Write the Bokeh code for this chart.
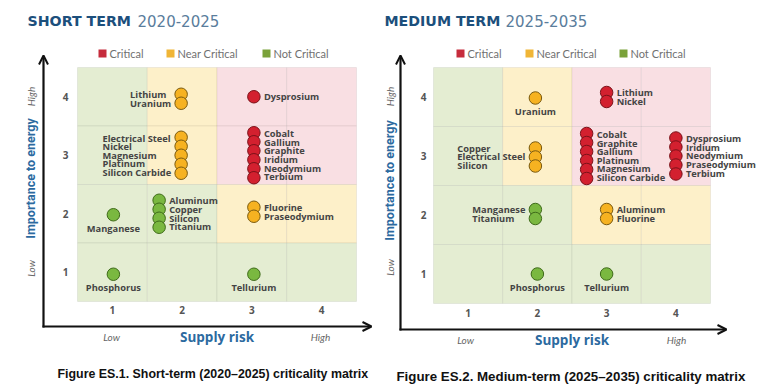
import math
from bokeh.plotting import figure
from bokeh.layouts import row
from bokeh.models import ColumnDataSource, Range1d, Arrow, OpenHead
from bokeh.core.properties import value
from bokeh.embed import file_html
from bokeh.resources import INLINE

# ---------------- data ----------------
SUPPLY_TICKS = [1, 2, 3, 4]
IMPORTANCE_TICKS = [1, 2, 3, 4]
STATUS_NAMES = ["Critical", "Near Critical", "Not Critical"]

# criticality zone of each cell; rows are importance 4,3,2,1 ; columns supply 1..4
ZONE_IMPORTANCE = [4, 3, 2, 1]
ZONE_STATUS = [
    ["Not Critical", "Near Critical", "Critical", "Critical"],
    ["Not Critical", "Near Critical", "Critical", "Critical"],
    ["Not Critical", "Not Critical", "Near Critical", "Near Critical"],
    ["Not Critical", "Not Critical", "Not Critical", "Not Critical"],
]

ST_ELEMENTS = ["Lithium", "Uranium", "Dysprosium",
               "Electrical Steel", "Nickel", "Magnesium", "Platinum", "Silicon Carbide",
               "Cobalt", "Gallium", "Graphite", "Iridium", "Neodymium", "Terbium",
               "Manganese", "Aluminum", "Copper", "Silicon", "Titanium",
               "Fluorine", "Praseodymium", "Phosphorus", "Tellurium"]
ST_SUPPLY = [2, 2, 3,
             2, 2, 2, 2, 2,
             3, 3, 3, 3, 3, 3,
             1, 2, 2, 2, 2,
             3, 3, 1, 3]
ST_IMPORTANCE = [4, 4, 4,
                 3, 3, 3, 3, 3,
                 3, 3, 3, 3, 3, 3,
                 2, 2, 2, 2, 2,
                 2, 2, 1, 1]

MT_ELEMENTS = ["Uranium", "Lithium", "Nickel",
               "Copper", "Electrical Steel", "Silicon",
               "Cobalt", "Graphite", "Gallium", "Platinum", "Magnesium", "Silicon Carbide",
               "Dysprosium", "Iridium", "Neodymium", "Praseodymium", "Terbium",
               "Manganese", "Titanium", "Aluminum", "Fluorine",
               "Phosphorus", "Tellurium"]
MT_SUPPLY = [2, 3, 3,
             2, 2, 2,
             3, 3, 3, 3, 3, 3,
             4, 4, 4, 4, 4,
             2, 2, 3, 3,
             2, 3]
MT_IMPORTANCE = [4, 4, 4,
                 3, 3, 3,
                 3, 3, 3, 3, 3, 3,
                 3, 3, 3, 3, 3,
                 2, 2, 2, 2,
                 1, 1]

# ---------------- styles ----------------
ZONE_FILL = {"Critical": "#f9dfe3", "Near Critical": "#fdf0c9", "Not Critical": "#e4edd2"}
DOT_FILL = {"Critical": "#d3202f", "Near Critical": "#f6b221", "Not Critical": "#7ab840"}
DOT_LINE = {"Critical": "#7a1219", "Near Critical": "#7a5a10", "Not Critical": "#3f6b1a"}
LEGEND_FILL = {"Critical": "#c62c3c", "Near Critical": "#f0b536", "Not Critical": "#7aa23a"}

TITLE_BLUE = "#1c4f7c"
YEAR_BLUE = "#5a7d9c"
AXIS_BLUE = "#2c6a9f"
LABEL_FONT = value("Open Sans")
DOT_STEP = 9.0  # px between stacked dots

FIG_H = 385
PAGE_TOP = 0

# group layout per cell: (label side, dx px, dy px)
ST_LAYOUT = {
    (2, 4): ("left", -1, 2), (3, 4): ("right", 2, 0),
    (2, 3): ("left", -1, 0), (3, 3): ("right", 2, 0),
    (1, 2): ("below", 1, 1), (2, 2): ("right", -23, 0), (3, 2): ("right", 2, -2),
    (1, 1): ("below", 1, 2), (3, 1): ("below", 2, 2),
}
MT_LAYOUT = {
    (2, 4): ("below", -2, 1), (3, 4): ("right", 0, 0),
    (2, 3): ("left", -2, 1), (3, 3): ("right", -20, 0), (4, 3): ("right", 0, 0),
    (2, 2): ("left", -2, -1), (3, 2): ("right", 0, -1),
    (2, 1): ("below", 0, 0), (3, 1): ("below", 0, 0),
}

ST_GEOM = dict(fig_left=0, fig_w=380, grid_l=77, grid_r=356, grid_t=67, grid_b=301,
               ax_x=43, ax_y=326, ax_tip_x=371, ax_tip_y=55,
               ytick_x=65, xtick_y=309, ylab_x=30, ylab_c=178, yhigh_y=96, ylow_y=268,
               xlab_y=336, low_x=111, high_x=320, title_x=27, year_x=137, title_y=20,
               legend_x=[102, 170, 266], legend_y=53,
               cap_x=57, cap_y=373, cap_size="12.4px")
MT_GEOM = dict(fig_left=380, fig_w=384, grid_l=433, grid_r=710, grid_t=67, grid_b=303,
               ax_x=400, ax_y=329, ax_tip_x=726, ax_tip_y=55,
               ytick_x=423, xtick_y=312, ylab_x=389, ylab_c=180, yhigh_y=96, ylow_y=267,
               xlab_y=339, low_x=465, high_x=676, title_x=384, year_x=505, title_y=20,
               legend_x=[460, 529, 623], legend_y=53,
               cap_x=396, cap_y=376, cap_size="13.3px")


def make_chart(g, title, year, caption, elements, supply, importance, layout):
    ppx = (g["grid_r"] - g["grid_l"]) / 4.0
    ppy = (g["grid_b"] - g["grid_t"]) / 4.0

    def X(px):
        return 0.5 + (px - g["grid_l"]) / ppx

    def Y(py):
        return 4.5 - (py - g["grid_t"]) / ppy

    p = figure(width=g["fig_w"], height=FIG_H,
               x_range=Range1d(X(g["fig_left"]), X(g["fig_left"] + g["fig_w"])),
               y_range=Range1d(Y(PAGE_TOP + FIG_H), Y(PAGE_TOP)),
               x_axis_location=None, y_axis_location=None, title=None,
               toolbar_location=None, output_backend="svg", min_border=0)
    p.grid.visible = False
    p.outline_line_color = None
    p.background_fill_color = "white"
    p.border_fill_color = "white"

    # zone cells
    cx, cy, cf = [], [], []
    for r, imp in enumerate(ZONE_IMPORTANCE):
        for c, s in enumerate(SUPPLY_TICKS):
            cx.append(s)
            cy.append(imp)
            cf.append(ZONE_FILL[ZONE_STATUS[r][c]])
    p.rect(x=cx, y=cy, width=1, height=1, fill_color=cf,
           line_color="#000000", line_alpha=0.06, line_width=1)

    def status_of(s, imp):
        return ZONE_STATUS[ZONE_IMPORTANCE.index(imp)][SUPPLY_TICKS.index(s)]

    # group elements per cell
    groups = {}
    for name, s, imp in zip(elements, supply, importance):
        groups.setdefault((s, imp), []).append(name)

    dots = dict(x=[], y=[], fill=[], line=[])
    labels = {"left": dict(x=[], y=[], text=[]),
              "right": dict(x=[], y=[], text=[]),
              "below": dict(x=[], y=[], text=[])}
    for (s, imp), names in groups.items():
        side, dx, dy = layout[(s, imp)]
        st = status_of(s, imp)
        n = len(names)
        x = s + dx / ppx
        ys = []
        for k in range(n):
            off = dy + (k - (n - 1) / 2.0) * DOT_STEP
            yk = imp - off / ppy
            ys.append(yk)
            dots["x"].append(x)
            dots["y"].append(yk)
            dots["fill"].append(DOT_FILL[st])
            dots["line"].append(DOT_LINE[st])
        lab = labels[side]
        lab["x"].append(x)
        lab["y"].append(ys[-1] if side == "below" else (ys[0] + ys[-1]) / 2.0)
        lab["text"].append("\n".join(names))

    p.scatter(x="x", y="y", size=12.5, fill_color="fill", line_color="line",
              line_width=1, source=ColumnDataSource(dots))

    common = dict(text_font=LABEL_FONT, text_font_style="bold", text_font_size="9.3px",
                  text_color="#444444", text_line_height=0.66)
    p.text(x="x", y="y", text="text", source=ColumnDataSource(labels["right"]),
           x_offset=10, anchor="center_left", text_align="left", **common)
    p.text(x="x", y="y", text="text", source=ColumnDataSource(labels["left"]),
           x_offset=-10, anchor="center_right", text_align="left", **common)
    p.text(x="x", y="y", text="text", source=ColumnDataSource(labels["below"]),
           y_offset=7, anchor="top_center", text_align="center", **common)

    # axes arrows
    head_v = OpenHead(size=9, line_width=2, line_color="#111111")
    head_h = OpenHead(size=9, line_width=2, line_color="#111111")
    p.add_layout(Arrow(end=head_v, x_start=X(g["ax_x"]), y_start=Y(g["ax_y"] + 1),
                       x_end=X(g["ax_x"]), y_end=Y(g["ax_tip_y"]),
                       line_width=2.2, line_color="#111111"))
    p.add_layout(Arrow(end=head_h, x_start=X(g["ax_x"] - 1), y_start=Y(g["ax_y"]),
                       x_end=X(g["ax_tip_x"]), y_end=Y(g["ax_y"]),
                       line_width=2.2, line_color="#111111"))

    # tick numbers
    tick_style = dict(text_font=LABEL_FONT, text_font_style="bold", text_font_size="10px",
                      text_color="#555555", text_align="center", text_baseline="middle",
                      anchor="center")
    p.text(x=SUPPLY_TICKS, y=[Y(g["xtick_y"])] * 4, text=[str(t) for t in SUPPLY_TICKS],
           **tick_style)
    p.text(x=[X(g["ytick_x"])] * 4, y=IMPORTANCE_TICKS,
           text=[str(t) for t in IMPORTANCE_TICKS], **tick_style)

    # axis titles
    ital = dict(text_font=value("Lato"), text_font_style="italic", text_font_size="10px",
                text_color="#666666", text_align="center", text_baseline="middle",
                anchor="center")
    p.text(x=[X(g["low_x"]), X(g["high_x"])], y=[Y(g["xlab_y"])] * 2,
           text=["Low", "High"], **ital)
    p.text(x=[X(g["ylab_x"])] * 2, y=[Y(g["yhigh_y"]), Y(g["ylow_y"])],
           text=["High", "Low"], angle=math.pi / 2, **ital)
    axt = dict(text_font_style="bold",
               text_color=AXIS_BLUE, text_align="center", text_baseline="middle",
               anchor="center")
    p.text(x=[(X(g["grid_l"]) + X(g["grid_r"])) / 2.0], y=[Y(g["xlab_y"])],
           text=["Supply risk"], text_font=value("Open Sans"), text_font_size="13.5px", **axt)
    p.text(x=[X(g["ylab_x"])], y=[Y(g["ylab_c"])], text=["Importance to energy"],
           angle=math.pi / 2, text_font=value("Roboto"), text_font_size="12.5px", **axt)

    # title
    p.text(x=[X(g["title_x"])], y=[Y(g["title_y"])], text=[title],
           text_font=value("DejaVu Sans"), text_font_style="bold", text_font_size="14.2px",
           text_color=TITLE_BLUE, text_align="left", text_baseline="middle",
           anchor="center_left")
    p.text(x=[X(g["year_x"])], y=[Y(g["title_y"])], text=[year],
           text_font=value("DejaVu Sans"), text_font_size="15px",
           text_color=YEAR_BLUE, text_align="left", text_baseline="middle",
           anchor="center_left")

    # legend
    lx = [X(v) for v in g["legend_x"]]
    ly = [Y(g["legend_y"])] * 3
    p.scatter(x=lx, y=ly, marker="square", size=8,
              fill_color=[LEGEND_FILL[s] for s in STATUS_NAMES], line_color=None)
    p.text(x=lx, y=ly, text=STATUS_NAMES, x_offset=7, text_font=value("Lato"),
           text_font_size="11px", text_color="#707070", text_align="left",
           text_baseline="middle", anchor="center_left")

    # caption
    p.text(x=[X(g["cap_x"])], y=[Y(g["cap_y"])], text=[caption],
           text_font=value("Liberation Sans"), text_font_style="bold",
           text_font_size=g["cap_size"], text_color="#111111",
           text_align="left", text_baseline="middle", anchor="center_left")
    return p


p1 = make_chart(ST_GEOM, "SHORT TERM", "2020-2025",
                "Figure ES.1. Short-term (2020\u20132025) criticality matrix",
                ST_ELEMENTS, ST_SUPPLY, ST_IMPORTANCE, ST_LAYOUT)
p2 = make_chart(MT_GEOM, "MEDIUM TERM", "2025-2035",
                "Figure ES.2. Medium-term (2025\u20132035) criticality matrix",
                MT_ELEMENTS, MT_SUPPLY, MT_IMPORTANCE, MT_LAYOUT)

layout = row(p1, p2, spacing=0)
open("out.html", "w").write(file_html(layout, INLINE))
